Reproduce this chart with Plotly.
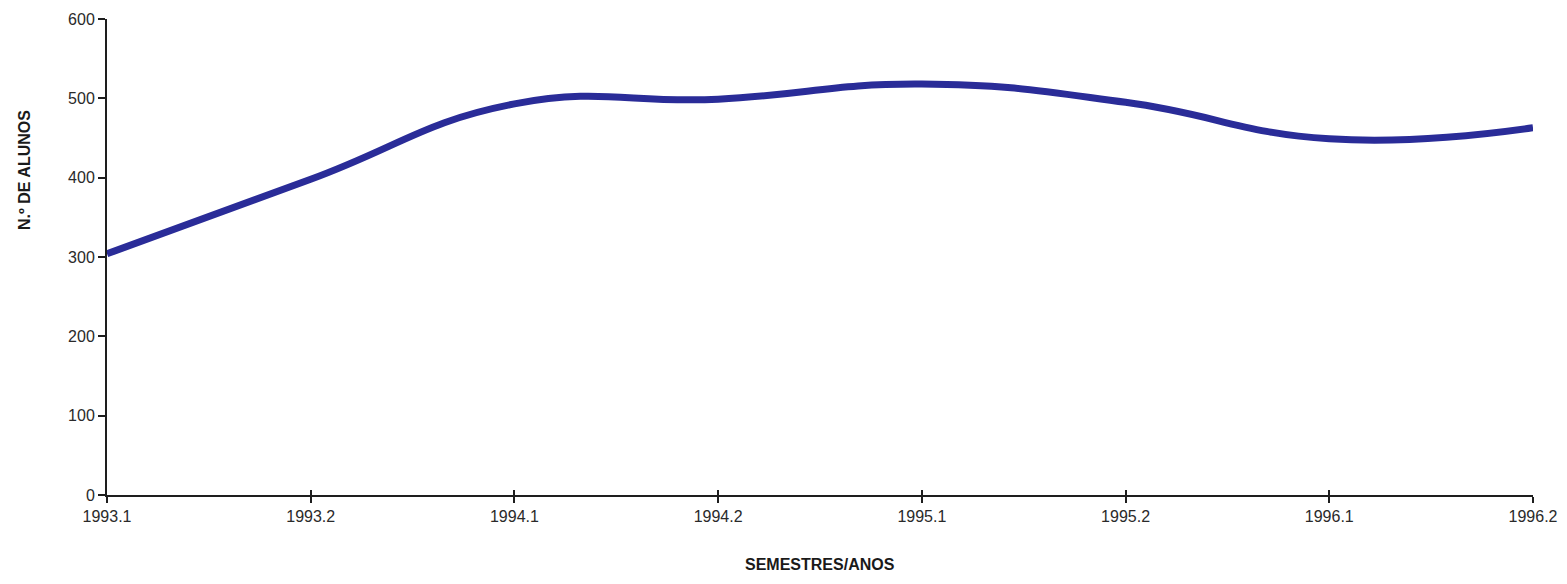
import plotly.graph_objects as go

semestres = ["1993.1", "1993.2", "1994.1", "1994.2", "1995.1", "1995.2", "1996.1", "1996.2"]
alunos = [304, 398, 493, 499, 518, 495, 449, 463]
y_ticks = [0, 100, 200, 300, 400, 500, 600]

# page has an 8px default body margin on every side; keep the figure inside the window
OFF = 8
W, H = 1567 - 2 * OFF, 584 - 2 * OFF
PLOT_L, PLOT_R, PLOT_T, PLOT_B = 107, 1533, 19, 495   # window pixel targets
L, T = PLOT_L - OFF, PLOT_T - OFF
PW, PH = PLOT_R - PLOT_L, PLOT_B - PLOT_T
R, B = W - L - PW, H - T - PH

fig = go.Figure()
fig.add_trace(go.Scatter(
    x=semestres, y=alunos, mode="lines",
    line=dict(color="#2a2c98", width=7, shape="spline", smoothing=1.3),
    showlegend=False, hoverinfo="x+y",
))
fig.add_trace(go.Scatter(x=semestres, y=alunos, xaxis="x2", mode="lines",
                         line=dict(width=0), showlegend=False, hoverinfo="skip"))

FAM = "Liberation Sans, Arial, sans-serif"
font = dict(family=FAM, size=16, color="#2a2a2a")

fig.update_layout(
    width=W, height=H,
    margin=dict(l=L, r=R, t=T, b=B, autoexpand=False),
    paper_bgcolor="white", plot_bgcolor="white",
    font=font,
    xaxis=dict(type="category", range=[0, len(semestres) - 1],
               showgrid=False, zeroline=False,
               showline=True, linecolor="#1e1e1e", linewidth=2,
               ticks="outside", ticklen=6, tickwidth=2, tickcolor="#1e1e1e",
               tickfont=font),
    xaxis2=dict(type="category", range=[0, len(semestres) - 1], overlaying="x",
                showgrid=False, zeroline=False, showline=False,
                ticks="inside", ticklen=5, tickwidth=2, tickcolor="#1e1e1e",
                showticklabels=False, side="bottom", anchor="y"),
    yaxis=dict(range=[0, 600], tickvals=y_ticks, showgrid=False, zeroline=False,
               showline=True, linecolor="#1e1e1e", linewidth=2,
               ticks="outside", ticklen=7, tickwidth=2, tickcolor="#1e1e1e",
               tickfont=font),
)

fig.add_annotation(text="<b>N.º DE ALUNOS</b>", xref="paper", yref="paper",
                   x=(24 - PLOT_L) / PW, y=(PLOT_B - 170) / PH, textangle=-90,
                   showarrow=False, xanchor="center", yanchor="middle",
                   font=dict(family=FAM, size=16, color="#1a1a1a"))
fig.add_annotation(text="<b>SEMESTRES/ANOS</b>", xref="paper", yref="paper",
                   x=0.5, y=(PLOT_B - 564) / PH,
                   showarrow=False, xanchor="center", yanchor="middle",
                   font=dict(family=FAM, size=16, color="#1a1a1a"))

fig.write_html("out.html")
